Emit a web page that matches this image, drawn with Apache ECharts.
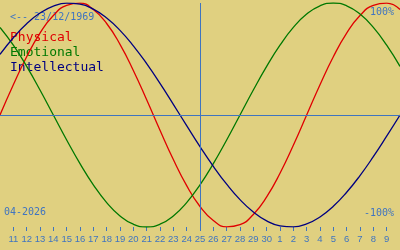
<!DOCTYPE html>
<html><head><meta charset="utf-8">
<script src="https://cdn.jsdelivr.net/npm/echarts@6/dist/echarts.min.js"></script>
<style>html,body{margin:0;padding:0;background:#e0d080}#c{width:400px;height:250px}</style>
</head><body><div id="c"></div>
<script>
// day offsets from the centre date (25/04/2026)
const dayOffsets = [-15,-14,-13,-12,-11,-10,-9,-8,-7,-6,-5,-4,-3,-2,-1,0,1,2,3,4,5,6,7,8,9,10,11,12,13,14,15];
// tick positions and their labels
const tickOffsets = [-14,-13,-12,-11,-10,-9,-8,-7,-6,-5,-4,-3,-2,-1,0,1,2,3,4,5,6,7,8,9,10,11,12,13,14];
const tickLabels = ['11','12','13','14','15','16','17','18','19','20','21','22','23','24','25','26','27','28','29','30','1','2','3','4','5','6','7','8','9'];
// series values (%)
const physical = [0,27,52,73.1,88.8,97.9,99.8,94.2,81.7,63.1,39.8,13.6,-13.6,-39.8,-63.1,-81.7,-94.2,-99.8,-97.9,-88.8,-73.1,-52,-27,0,27,52,73.1,88.8,97.9,99.8,94.2];
const emotional = [78.2,62.3,43.4,22.3,0,-22.3,-43.4,-62.3,-78.2,-90.1,-97.5,-100,-97.5,-90.1,-78.2,-62.3,-43.4,-22.3,0,22.3,43.4,62.3,78.2,90.1,97.5,100,97.5,90.1,78.2,62.3,43.4];
const intellectual = [54.1,69,81.5,91,97.2,99.9,99,94.5,86.6,75.6,61.8,45.8,28.2,9.5,-9.5,-28.2,-45.8,-61.8,-75.6,-86.6,-94.5,-99,-99.9,-97.2,-91,-81.5,-69,-54.1,-37.2,-18.9,0];
const seriesNames = ['Physical','Emotional','Intellectual'];
const seriesColors = ['#e00000','#007800','#000080'];

const BLUE = '#3f74c0';
const chart = echarts.init(document.getElementById('c'), null, {renderer:'canvas'});
const mk = (arr) => arr.map((v,i)=>[dayOffsets[i], v]);
const dataSets = [physical, emotional, intellectual];
const series = dataSets.map((d,i)=>({
  name: seriesNames[i], type:'line', data: mk(d), smooth: true, showSymbol:false,
  lineStyle:{color:seriesColors[i], width:1.3}, itemStyle:{color:seriesColors[i]}, z: 3, animation:false
}));
series[0].markLine = {
  silent:true, symbol:'none', animation:false, label:{show:false},
  lineStyle:{color:BLUE, width:1, type:'solid'},
  data:[{xAxis:0},{yAxis:0}]
};
const mono = '"DejaVu Sans Mono", monospace';
chart.setOption({
  backgroundColor:'#e0d080',
  animation:false,
  grid:{left:0,right:0,top:3,bottom:23,containLabel:false},
  xAxis:{type:'value', min:-15, max:15,
    axisLine:{show:false, onZero:false},
    splitLine:{show:false},
    axisTick:{show:true, length:4, lineStyle:{color:BLUE,width:1}, customValues: tickOffsets},
    axisLabel:{show:true, customValues: tickOffsets, margin:7, color:BLUE, fontFamily:'"Liberation Sans", sans-serif', fontSize:9.5,
      formatter:(v)=>tickLabels[tickOffsets.indexOf(v)]}
  },
  yAxis:{type:'value', min:-100, max:100, show:false},
  graphic:[
    {type:'text', x:10, y:17, style:{text:'<-- 23/12/1969', fill:BLUE, font:'10px '+mono, verticalAlign:'middle'}},
    {type:'text', x:10, y:38, style:{text:seriesNames[0], fill:seriesColors[0], font:'13px '+mono, verticalAlign:'middle'}},
    {type:'text', x:10, y:53, style:{text:seriesNames[1], fill:seriesColors[1], font:'13px '+mono, verticalAlign:'middle'}},
    {type:'text', x:10, y:68, style:{text:seriesNames[2], fill:seriesColors[2], font:'13px '+mono, verticalAlign:'middle'}},
    {type:'text', x:394, y:12.5, style:{text:'100%', fill:BLUE, font:'10px '+mono, align:'right', verticalAlign:'middle'}},
    {type:'text', x:394, y:213, style:{text:'-100%', fill:BLUE, font:'10px '+mono, align:'right', verticalAlign:'middle'}},
    {type:'text', x:4, y:212, style:{text:'04-2026', fill:BLUE, font:'10px '+mono, verticalAlign:'middle'}}
  ],
  series: series
});
</script></body></html>
